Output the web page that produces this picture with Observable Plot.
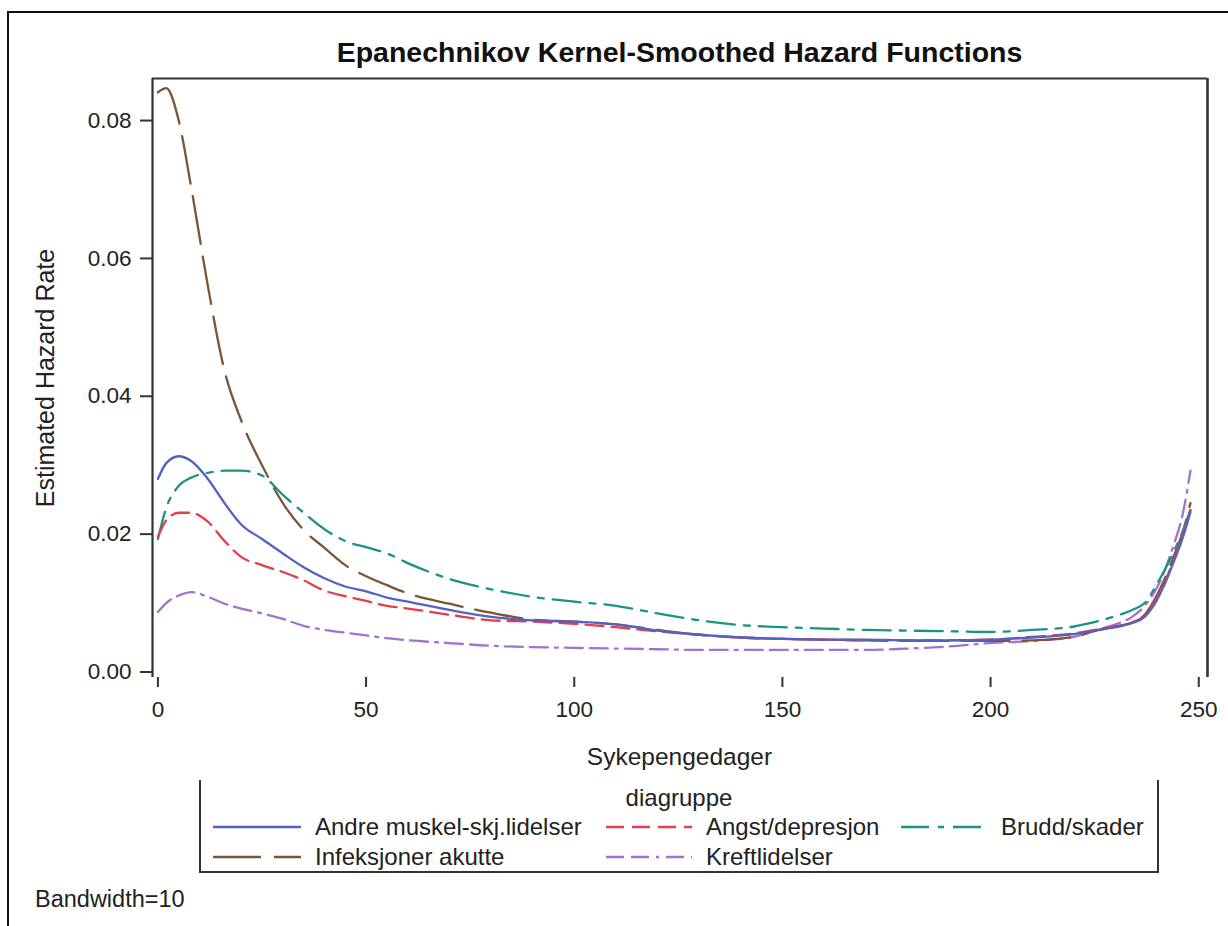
<!DOCTYPE html>
<html><head><meta charset="utf-8">
<script src="https://cdn.jsdelivr.net/npm/d3@7"></script>
<script src="https://cdn.jsdelivr.net/npm/@observablehq/plot@0.6"></script>
<style>
body{margin:0;background:#fff;font-family:"Liberation Sans",Arial,sans-serif;color:#222;}
#wrap{position:relative;width:1228px;height:926px;overflow:hidden;background:#fff;}
#outer{position:absolute;left:7px;top:11px;width:1240px;height:1000px;border-left:2px solid #111;border-top:2px solid #111;}
#chart{position:absolute;left:0;top:0;}
.abs{position:absolute;white-space:nowrap;}
#title{left:152px;width:1055px;top:36px;text-align:center;font-weight:bold;font-size:28.5px;color:#111;}
#xlabel{left:152px;width:1055px;top:743px;text-align:center;font-size:24.5px;}
#ylabel{left:45px;top:378px;transform:translate(-50%,-50%) rotate(-90deg);font-size:25px;}
#legend{position:absolute;left:199px;top:780px;width:956px;height:91px;border-left:2px solid #333;border-right:2px solid #333;border-bottom:2px solid #333;}
#legtitle{position:absolute;left:0;width:956px;top:4px;text-align:center;font-size:24px;}
.item{position:absolute;display:flex;align-items:center;font-size:24px;height:28px;}
.item svg{margin-right:14px;}
#foot{left:35px;top:886px;font-size:23.5px;}
</style></head><body><div id="wrap">
<div id="outer"></div>
<div id="chart"></div>
<div id="title" class="abs">Epanechnikov Kernel-Smoothed Hazard Functions</div>
<div id="xlabel" class="abs">Sykepengedager</div>
<div id="ylabel" class="abs">Estimated Hazard Rate</div>
<div id="legend"><div id="legtitle">diagruppe</div></div>
<div id="foot" class="abs">Bandwidth=10</div>
</div>
<script>
const days = [0,2,5,8,12,16,20,25,30,35,40,45,50,55,60,70,80,90,100,110,120,130,140,150,160,170,180,190,200,210,220,226,230,234,237,240,242,244,246,248];
const andre = [0.0280,0.0303,0.0313,0.0306,0.0280,0.0245,0.0214,0.0193,0.0172,0.0152,0.0136,0.0124,0.0117,0.0108,0.0102,0.0090,0.0080,0.0075,0.0073,0.0069,0.0060,0.0054,0.0050,0.0048,0.0047,0.0047,0.0046,0.0046,0.0047,0.0050,0.0055,0.0061,0.0065,0.0071,0.0080,0.0105,0.0130,0.0160,0.0192,0.0232];
const angst = [0.0196,0.0220,0.0231,0.0231,0.0218,0.0190,0.0167,0.0155,0.0145,0.0133,0.0118,0.0110,0.0103,0.0096,0.0092,0.0083,0.0075,0.0073,0.0070,0.0065,0.0059,0.0054,0.0050,0.0048,0.0047,0.0046,0.0046,0.0046,0.0047,0.0051,0.0056,0.0062,0.0066,0.0072,0.0082,0.0108,0.0133,0.0163,0.0196,0.0235];
const brudd = [0.0193,0.0238,0.0270,0.0282,0.0289,0.0292,0.0292,0.0285,0.0257,0.0231,0.0207,0.0190,0.0181,0.0172,0.0158,0.0135,0.0120,0.0109,0.0102,0.0096,0.0085,0.0075,0.0068,0.0065,0.0063,0.0061,0.0060,0.0059,0.0058,0.0061,0.0066,0.0074,0.0081,0.0090,0.0100,0.0128,0.0150,0.0175,0.0202,0.0235];
const infeksjoner = [0.0841,0.0847,0.0800,0.0703,0.0560,0.0437,0.0365,0.0300,0.0245,0.0206,0.0180,0.0155,0.0139,0.0126,0.0114,0.0099,0.0086,0.0076,0.0073,0.0069,0.0061,0.0054,0.0050,0.0048,0.0047,0.0046,0.0045,0.0045,0.0045,0.0046,0.0051,0.0061,0.0066,0.0072,0.0083,0.0112,0.0138,0.0168,0.0200,0.0245];
const kreft = [0.0087,0.0100,0.0111,0.0116,0.0109,0.0099,0.0092,0.0085,0.0077,0.0067,0.0061,0.0057,0.0053,0.0049,0.0046,0.0042,0.0038,0.0036,0.0035,0.0034,0.0033,0.0032,0.0032,0.0032,0.0032,0.0032,0.0034,0.0037,0.0042,0.0045,0.0051,0.0062,0.0069,0.0080,0.0096,0.0123,0.0150,0.0185,0.0225,0.0292];

const groupNames = ["Andre muskel-skj.lidelser","Angst/depresjon","Brudd/skader","Infeksjoner akutte","Kreftlidelser"];
const groupValues = [andre, angst, brudd, infeksjoner, kreft];
const groupColors = ["#5262c2","#e63c4c","#1a9383","#7d5535","#a272d2"];
const groupDash = [null,"18,8","28,9,6,9","48,13","18,7,18,7,3,7"];
const xTicks = [0,50,100,150,200,250];
const yTicks = [0,0.02,0.04,0.06,0.08];
const xDomain = [-1.3,252.1];
const yDomain = [-0.0008,0.0861];

const series = groupNames.map((g,i)=>days.map((d,j)=>({day:d, rate:groupValues[i][j], group:g})));

const marks = [];
[4,3,2,1,0].forEach(i=>{
  marks.push(Plot.line(series[i],{x:"day",y:"rate",stroke:groupColors[i],strokeWidth:2.3,curve:"monotone-x",strokeDasharray:groupDash[i]||undefined}));
});
marks.push(Plot.ruleY([yDomain[1]],{stroke:"#333",strokeWidth:2.2}));
marks.push(Plot.ruleX([xDomain[0]],{stroke:"#333",strokeWidth:2.2}));
marks.push(Plot.ruleX([xDomain[1]],{stroke:"#333",strokeWidth:2.6}));
marks.push(Plot.axisX({ticks:xTicks,tickSize:10,tickPadding:14,fontSize:22.5,label:null,stroke:"#333",strokeWidth:2,tickFormat:d3.format("d")}));
marks.push(Plot.axisY({ticks:yTicks,tickSize:12,tickPadding:9,fontSize:22.5,label:null,stroke:"#333",strokeWidth:2,tickFormat:d3.format(".2f")}));

const chart = Plot.plot({
  width:1228, height:740,
  marginLeft:152, marginRight:21, marginTop:78, marginBottom:63,
  style:{fontFamily:'"Liberation Sans",Arial,sans-serif',fontSize:"22px",color:"#222",background:"transparent",overflow:"visible"},
  x:{domain:xDomain},
  y:{domain:yDomain},
  marks
});
document.getElementById("chart").appendChild(chart);

const legendPos = [[12,33],[405,33],[700,33],[12,63],[405,63]];
const leg = document.getElementById("legend");
groupNames.forEach((g,i)=>{
  const it = document.createElement("div");
  it.className="item";
  it.style.left = legendPos[i][0]+"px";
  it.style.top = legendPos[i][1]+"px";
  const w = i===0||i===3?88:86;
  it.innerHTML = `<svg width="${w}" height="10"><line x1="0" y1="5" x2="${w}" y2="5" stroke="${groupColors[i]}" stroke-width="2.3" ${groupDash[i]?`stroke-dasharray="${groupDash[i]}"`:""}/></svg><span>${g}</span>`;
  leg.appendChild(it);
});
</script>
</body></html>
